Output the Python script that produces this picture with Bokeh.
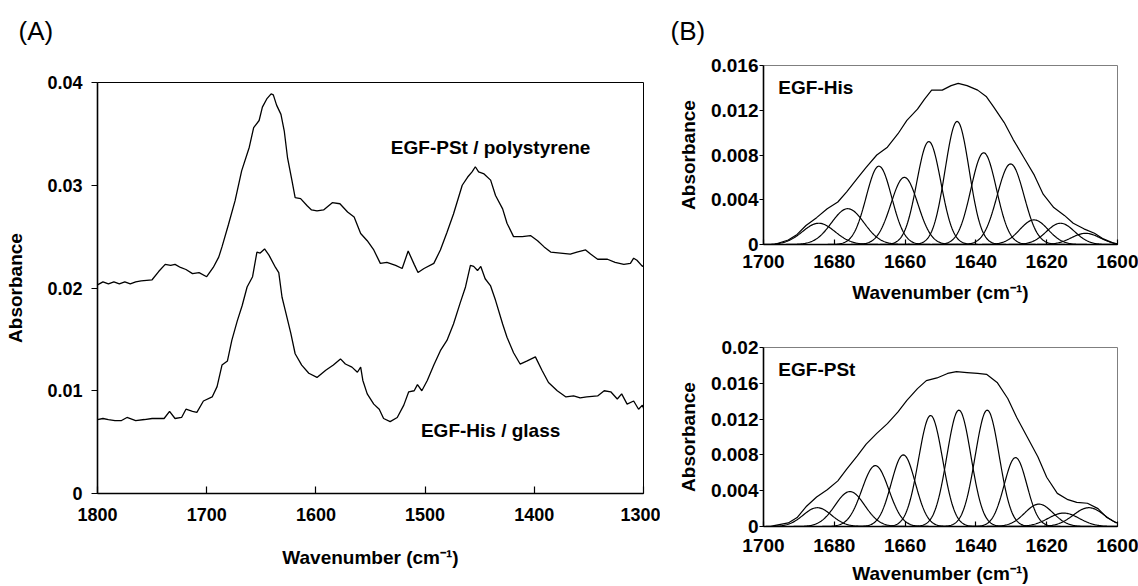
import numpy as np
from bokeh.plotting import figure
from bokeh.layouts import row, column
from bokeh.models import Range1d, FixedTicker, Label
from bokeh.embed import file_html
from bokeh.resources import INLINE

FONT = "Liberation Sans"

# ---------------- (A) full spectra ----------------
pst_wn = [1800, 1795, 1790, 1785, 1780, 1775, 1770, 1765, 1760, 1750, 1744, 1738, 1733,
          1729, 1724, 1719, 1713, 1707, 1700, 1694, 1689, 1686, 1680, 1674, 1668, 1661,
          1657, 1652, 1649, 1645, 1641, 1639, 1636, 1632, 1629, 1626, 1622, 1619, 1614,
          1608, 1604, 1599, 1593, 1585, 1578, 1571, 1565, 1559, 1553, 1547, 1541, 1535,
          1527, 1521, 1515.5, 1510, 1506.5, 1501, 1492, 1486, 1480, 1474, 1466, 1461,
          1457, 1454, 1451, 1446, 1440, 1435.5, 1429, 1425, 1419, 1411, 1403.5, 1397,
          1391, 1385, 1376, 1367, 1361, 1353, 1348.5, 1342, 1333, 1326, 1318, 1312, 1309,
          1306, 1301, 1300]
pst_abs = [0.0203, 0.0206, 0.0204, 0.0206, 0.0204, 0.0206, 0.0204, 0.0206, 0.0207, 0.0208,
           0.0216, 0.0223, 0.0222, 0.0223, 0.0220, 0.0218, 0.0214, 0.0215, 0.0211, 0.0220,
           0.0230, 0.0240, 0.0262, 0.0285, 0.0314, 0.0337, 0.0356, 0.0363, 0.0376, 0.0384,
           0.0389, 0.0388, 0.0378, 0.0369, 0.0353, 0.0327, 0.0305, 0.0288, 0.0287, 0.0280,
           0.0276, 0.0275, 0.0276, 0.0283, 0.0282, 0.0274, 0.0269, 0.0253, 0.0246, 0.0237,
           0.0224, 0.0225, 0.0222, 0.0219, 0.0236, 0.0223, 0.0215, 0.0219, 0.0224, 0.0237,
           0.0254, 0.0272, 0.0300, 0.0308, 0.0313, 0.0318, 0.0313, 0.0311, 0.0305, 0.0290,
           0.0277, 0.0263, 0.0250, 0.0250, 0.0251, 0.0246, 0.0240, 0.0235, 0.0234, 0.0233,
           0.0235, 0.0237, 0.0233, 0.0228, 0.0228, 0.0225, 0.0223, 0.0224, 0.0229, 0.0227,
           0.0221, 0.0222]

his_wn = [1800, 1795, 1790, 1784, 1778, 1773, 1765, 1757, 1750, 1745, 1739, 1734, 1729,
          1723, 1719, 1713, 1709, 1703, 1695, 1690.5, 1686, 1681, 1677, 1672, 1667.5, 1663,
          1658, 1654, 1651, 1647, 1643, 1637, 1634, 1631, 1628, 1623, 1619, 1613, 1606.5,
          1599, 1591, 1584, 1577.5, 1573, 1567, 1562, 1559, 1557, 1553, 1547, 1542, 1538,
          1532, 1525.5, 1519.5, 1515, 1510, 1507, 1503, 1498, 1492, 1486, 1480, 1474, 1468,
          1463, 1458.5, 1455.5, 1452, 1449, 1445, 1440, 1435.5, 1429, 1425, 1419, 1413,
          1406.5, 1399, 1393, 1387, 1379, 1371, 1364, 1358, 1352, 1342, 1336, 1330, 1324,
          1320, 1315, 1309, 1304.5, 1301, 1300]
his_abs = [0.0072, 0.0073, 0.0072, 0.0071, 0.0071, 0.0074, 0.0071, 0.0072, 0.0073, 0.0073,
           0.0073, 0.0080, 0.0073, 0.0074, 0.0082, 0.0080, 0.0079, 0.0090, 0.0094, 0.0104,
           0.0125, 0.0129, 0.0149, 0.0168, 0.0183, 0.0201, 0.0211, 0.0235, 0.0234, 0.0238,
           0.0232, 0.0220, 0.0215, 0.0191, 0.0178, 0.0156, 0.0136, 0.0125, 0.0117, 0.0113,
           0.0120, 0.0125, 0.0131, 0.0126, 0.0123, 0.0118, 0.0123, 0.0110, 0.0097, 0.0087,
           0.0082, 0.0073, 0.0070, 0.0074, 0.0086, 0.0099, 0.0100, 0.0106, 0.0100, 0.0110,
           0.0125, 0.0139, 0.0149, 0.0165, 0.0185, 0.0201, 0.0222, 0.0221, 0.0217, 0.0221,
           0.0209, 0.0202, 0.0188, 0.0165, 0.0152, 0.0137, 0.0126, 0.0129, 0.0133, 0.0120,
           0.0108, 0.0100, 0.0094, 0.0095, 0.0093, 0.0094, 0.0095, 0.0100, 0.0099, 0.0092,
           0.0097, 0.0087, 0.0090, 0.0082, 0.0086, 0.0083]

a_xticks = [1800, 1700, 1600, 1500, 1400, 1300]
a_yticks = [0, 0.01, 0.02, 0.03, 0.04]
a_ylabels = ["0", "0.01", "0.02", "0.03", "0.04"]

# ---------------- (B) amide I band fitting ----------------
b_xticks = [1700, 1680, 1660, 1640, 1620, 1600]

his_env_wn = [1698, 1697, 1693, 1690.5, 1688, 1685, 1682, 1679, 1676.5, 1673.5, 1671, 1668,
              1665, 1662, 1659.5, 1656.5, 1654.5, 1652.5, 1649.5, 1647, 1645, 1642.5, 1639.5,
              1637, 1635, 1632, 1629.5, 1626.5, 1623.5, 1621, 1618, 1615, 1612.5, 1609.5,
              1606.5, 1604, 1601, 1600]
his_env_abs = [-0.0001, 0.0000, 0.0004, 0.0009, 0.0017, 0.0024, 0.0032, 0.0038, 0.0047,
               0.0059, 0.0069, 0.0080, 0.0087, 0.0099, 0.0111, 0.0121, 0.0130, 0.0138,
               0.0138, 0.0142, 0.0144, 0.0142, 0.0138, 0.0132, 0.0123, 0.0109, 0.0094,
               0.0078, 0.0062, 0.0045, 0.0033, 0.0026, 0.0019, 0.0014, 0.0010, 0.0005,
               0.0001, 0.0000]
his_band_center = [1684.4, 1676.2, 1667.4, 1660.2, 1653.3, 1645.3, 1637.8, 1630.2, 1623.6, 1616.1, 1609.0]
his_band_height = [0.0019, 0.0032, 0.0070, 0.0060, 0.0092, 0.0110, 0.0082, 0.0072, 0.0022, 0.0019, 0.0010]
his_band_sigma = [4.6, 4.6, 3.6, 3.8, 3.4, 3.4, 3.6, 3.8, 4.0, 4.0, 4.0]
his_yticks = [0, 0.004, 0.008, 0.012, 0.016]
his_ylabels = ["0", "0.004", "0.008", "0.012", "0.016"]

pst_env_wn = [1698, 1697, 1693, 1690.5, 1688, 1685, 1682, 1679, 1676.5, 1673.5, 1671, 1668,
              1665, 1662, 1659.5, 1656.5, 1654, 1651, 1648, 1645.5, 1642.5, 1639.5, 1637,
              1634, 1631, 1628.5, 1625.5, 1622.5, 1620, 1617, 1614, 1611.5, 1608.5, 1605.5,
              1603, 1600.3]
pst_env_abs = [0.0000, 0.0001, 0.0004, 0.0010, 0.0022, 0.0033, 0.0041, 0.0051, 0.0064,
               0.0079, 0.0092, 0.0104, 0.0115, 0.0128, 0.0141, 0.0154, 0.0163, 0.0166,
               0.0171, 0.0173, 0.0172, 0.0171, 0.0170, 0.0161, 0.0143, 0.0122, 0.0100,
               0.0078, 0.0055, 0.0037, 0.0030, 0.0027, 0.0026, 0.0020, 0.0010, 0.0004]
pst_band_center = [1684.8, 1675.6, 1668.4, 1660.5, 1652.8, 1644.8, 1636.8, 1628.8, 1622.2, 1615.2, 1608.1]
pst_band_height = [0.0021, 0.0039, 0.0068, 0.0080, 0.0124, 0.0130, 0.0130, 0.0077, 0.0025, 0.0015, 0.0021]
pst_band_sigma = [4.0, 4.2, 3.8, 3.4, 3.4, 3.4, 3.4, 3.2, 4.0, 4.4, 4.4]
pst_yticks = [0, 0.004, 0.008, 0.012, 0.016, 0.02]
pst_ylabels = ["0", "0.004", "0.008", "0.012", "0.016", "0.02"]

XLABEL = "Wavenumber (cm\u207b\u00b9)"
YLABEL = "Absorbance"
HEADER_H = 50


def style_axes(p, xticks, yticks, ylabels, tick_size, x_standoff, x_label_standoff,
               y_tick_out, y_standoff, y_label_standoff, x_tick_in):
    xa, ya = p.xaxis[0], p.yaxis[0]
    xa.ticker = FixedTicker(ticks=xticks)
    ya.ticker = FixedTicker(ticks=yticks)
    ya.major_label_overrides = {t: s for t, s in zip(yticks, ylabels)}
    xa.major_label_overrides = {t: str(t) for t in xticks}
    for ax in (xa, ya):
        ax.axis_line_color = "black"
        ax.axis_line_width = 1.6
        ax.major_tick_line_color = "black"
        ax.major_tick_line_width = 1.2
        ax.minor_tick_line_color = None
        ax.major_label_text_font = FONT
        ax.major_label_text_font_style = "bold"
        ax.major_label_text_font_size = tick_size
        ax.major_label_text_color = "black"
        ax.axis_label_text_font = FONT
        ax.axis_label_text_font_style = "bold"
        ax.axis_label_text_font_size = "19px"
        ax.axis_label_text_color = "black"
    xa.major_tick_in = x_tick_in
    xa.major_tick_out = 0
    xa.major_label_standoff = x_standoff
    xa.axis_label_standoff = x_label_standoff
    ya.major_tick_in = 0
    ya.major_tick_out = y_tick_out
    ya.major_label_standoff = y_standoff
    ya.axis_label_standoff = y_label_standoff
    p.xgrid.grid_line_color = None
    p.ygrid.grid_line_color = None


def new_fig(xr, yr, frame_w, frame_h, left, right, top, bottom, outline):
    p = figure(x_range=xr, y_range=yr, frame_width=frame_w, frame_height=frame_h,
               min_border_left=left, min_border_right=right, min_border_top=top,
               min_border_bottom=bottom, toolbar_location=None, output_backend="svg",
               x_axis_label=XLABEL, y_axis_label=YLABEL, title=None)
    p.outline_line_color = outline
    p.outline_line_width = 1
    p.background_fill_color = "white"
    p.border_fill_color = "white"
    return p


# ---- header strip carrying the panel tags ----
header = figure(frame_width=1138, frame_height=HEADER_H, x_range=Range1d(0, 1138),
                y_range=Range1d(HEADER_H, 0), min_border=0, min_border_left=0,
                min_border_right=0, min_border_top=0, min_border_bottom=0,
                toolbar_location=None, output_backend="svg", title=None,
                x_axis_location=None, y_axis_location=None)
header.outline_line_color = None
header.xgrid.grid_line_color = None
header.ygrid.grid_line_color = None
for tag, tx in (("(A)", 18), ("(B)", 670)):
    header.add_layout(Label(x=tx, y=30, text=tag, text_align="left",
                            text_baseline="alphabetic", text_font=FONT,
                            text_font_size="26px", text_color="black"))

# ---- panel A ----
pa = new_fig(Range1d(1800, 1300), Range1d(0, 0.04), 546, 411, 97, 17, 82 - HEADER_H, 93,
             "black")
style_axes(pa, a_xticks, a_yticks, a_ylabels, "18px", 14, 23, 6, 9, 18, 7)
pa.line(pst_wn, pst_abs, line_color="black", line_width=1.3)
pa.line(his_wn, his_abs, line_color="black", line_width=1.3)
pa.add_layout(Label(x=1440, y=0.0337, text="EGF-PSt / polystyrene", text_align="center",
                    text_baseline="middle", text_font=FONT, text_font_style="bold",
                    text_font_size="19px", text_color="black"))
pa.add_layout(Label(x=1440, y=0.0061, text="EGF-His / glass", text_align="center",
                    text_baseline="middle", text_font=FONT, text_font_style="bold",
                    text_font_size="19px", text_color="black"))


def band_panel(env_wn, env_abs, centers, heights, sigmas, yticks, ylabels, ymax,
               top, bottom, name, x_standoff, x_label_standoff):
    p = new_fig(Range1d(1700, 1600), Range1d(0, ymax), 354, 179, 103, 21, top, bottom,
                "#7f7f7f")
    style_axes(p, b_xticks, yticks, ylabels, "19px", x_standoff, x_label_standoff,
               4, 1, 9, 5)
    grid = np.arange(1700, 1599.75, -0.25)
    for c, h, s in zip(centers, heights, sigmas):
        p.line(grid, h * np.exp(-0.5 * ((grid - c) / s) ** 2), line_color="black",
               line_width=1.2)
    p.line(env_wn, env_abs, line_color="black", line_width=1.2)
    p.add_layout(Label(x=1695.8, y=ymax * 0.877, text=name, text_align="left",
                       text_baseline="middle", text_font=FONT, text_font_style="bold",
                       text_font_size="19px", text_color="black"))
    return p


pb1 = band_panel(his_env_wn, his_env_abs, his_band_center, his_band_height, his_band_sigma,
                 his_yticks, his_ylabels, 0.016, 65 - HEADER_H, 64, "EGF-His", 10, 11)
pb2 = band_panel(pst_env_wn, pst_env_abs, pst_band_center, pst_band_height, pst_band_sigma,
                 pst_yticks, pst_ylabels, 0.02, 39, 60, "EGF-PSt", 12, 8)

layout = column(header, row(pa, column(pb1, pb2, spacing=0), spacing=0), spacing=0)

with open("out.html", "w") as f:
    f.write(file_html(layout, INLINE, title="FTIR spectra"))
